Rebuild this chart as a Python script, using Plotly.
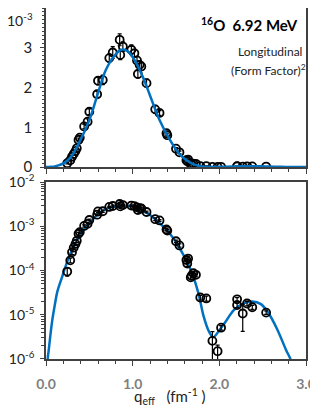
import plotly.graph_objects as go

# ---- data (form factor squared, in units of 1e-3) ----
q_data = [0.245, 0.28, 0.30, 0.32, 0.34, 0.355, 0.375, 0.39, 0.44, 0.48, 0.50, 0.59, 0.60,
          0.655, 0.73, 0.77, 0.85, 0.857, 0.887, 0.985, 1.02, 1.05, 1.06, 1.08, 1.10, 1.16,
          1.26, 1.31, 1.39, 1.40, 1.50, 1.54, 1.62, 1.64, 1.63, 1.67, 1.68, 1.70, 1.73,
          1.78, 1.85, 1.92, 1.98, 2.02, 2.205, 2.205, 2.27, 2.32, 2.38, 2.54]
f2_data = [0.095, 0.17, 0.26, 0.33, 0.40, 0.47, 0.68, 0.74, 1.02, 1.14, 1.39, 1.83, 2.17,
           2.19, 2.74, 2.88, 3.20, 2.82, 3.03, 2.95, 2.86, 2.68, 2.34, 2.57, 2.53, 2.11,
           1.45, 1.36, 0.85, 0.80, 0.46, 0.37, 0.173, 0.187, 0.144, 0.070, 0.076, 0.087, 0.080,
           0.0246, 0.0234, 0.00257, 0.0015, 0.0051, 0.0224, 0.0166, 0.0107, 0.018, 0.0148, 0.0112]
f2_err = [0.02, 0.02, 0.03, 0.03, 0.03, 0.04, 0.05, 0.05, 0.06, 0.07, 0.07, 0.08, 0.10,
          0.12, 0.10, 0.15, 0.15, 0.12, 0.12, 0.12, 0.10, 0.10, 0.10, 0.10, 0.10, 0.10,
          0.10, 0.06, 0.05, 0.05, 0.03, 0.03, 0.015, 0.015, 0.02, 0.008, 0.008, 0.008, 0.008,
          0.003, 0.003, 0.0016, 0.00055, 0.0006, 0.002, 0.002, 0.0065, 0.002, 0.0015, 0.001]

q_curve = [0.0, 0.02, 0.03, 0.07, 0.10, 0.13, 0.19, 0.25, 0.30, 0.38, 0.50, 0.60, 0.69, 0.79,
           0.87, 0.95, 1.04, 1.12, 1.20, 1.31, 1.43, 1.55, 1.68, 1.76, 1.82, 1.88, 1.93, 1.99,
           2.07, 2.17, 2.28, 2.38, 2.48, 2.57, 2.67, 2.77, 2.82, 2.90, 3.00]
f2_curve = [0.0, 0.001, 0.0015, 0.007, 0.016, 0.033, 0.076, 0.17, 0.29, 0.60, 1.18, 1.86, 2.44,
            2.80, 2.95, 2.90, 2.62, 2.25, 1.80, 1.18, 0.68, 0.30, 0.093, 0.030, 0.0091, 0.0042,
            0.0031, 0.0042, 0.0069, 0.0129, 0.0182, 0.020, 0.0174, 0.0107, 0.0046, 0.0016,
            0.0010, 0.0003, 0.00005]

x_ticks = [0.0, 1.0, 2.0, 3.0]
x_ticktext = ["0.0", "1.0", "2.0", "3.0"]
lin_ticks = [0, 1, 2, 3]
lin_ticktext = ["0", "1", "2", "3"]
lin_exponent = "10<sup>-3</sup>"
log_ticks = [1e-6, 1e-5, 1e-4, 1e-3, 1e-2]
log_ticktext = ["10<sup>-6</sup>", "10<sup>-5</sup>", "10<sup>-4</sup>", "10<sup>-3</sup>", "10<sup>-2</sup>"]

BLUE = "#0070C0"
FONT = "Lato"
AX = "#404040"

scale = 1e-3
f2_log = [v * scale for v in f2_data]
err_log = [e * scale for e in f2_err]
curve_log = [v * scale for v in f2_curve]

marker = dict(symbol="circle-open", size=8, color="black", line=dict(width=1.8, color="black"))

fig = go.Figure()
# top panel (linear)
fig.add_trace(go.Scatter(x=q_data, y=f2_data, mode="markers", marker=marker,
                         error_y=dict(type="data", array=f2_err, color="black", thickness=1.2, width=2),
                         xaxis="x", yaxis="y", showlegend=False))
fig.add_trace(go.Scatter(x=q_curve, y=f2_curve, mode="lines", line=dict(color=BLUE, width=2.5, shape="spline"),
                         xaxis="x", yaxis="y", showlegend=False))
# bottom panel (log)
fig.add_trace(go.Scatter(x=q_curve, y=curve_log, mode="lines", line=dict(color=BLUE, width=2.5, shape="spline"),
                         xaxis="x2", yaxis="y2", showlegend=False))
fig.add_trace(go.Scatter(x=q_data, y=f2_log, mode="markers", marker=marker,
                         error_y=dict(type="data", array=err_log, color="black", thickness=1.2, width=2),
                         xaxis="x2", yaxis="y2", showlegend=False))

common_x = dict(range=[0, 3], showline=True, linecolor=AX, linewidth=1.5, mirror=True,
                ticks="outside", ticklen=5, tickcolor=AX, tickwidth=1, showgrid=False, zeroline=False,
                tickvals=x_ticks, automargin=False,
                minor=dict(dtick=0.2, tick0=0, ticks="outside", ticklen=3, tickcolor=AX, showgrid=False))

# the page body adds an 8px offset, so the figure is sized/positioned to compensate
fig.update_layout(
    width=310, height=400,
    margin=dict(l=38, r=12, t=0, b=49, autoexpand=False),
    paper_bgcolor="white", plot_bgcolor="white",
    xaxis=dict(domain=[0, 1], anchor="y", showticklabels=False, **common_x),
    yaxis=dict(domain=[0.547, 1], anchor="x", range=[0, 4], tickvals=lin_ticks, ticktext=lin_ticktext,
               showline=True, linecolor=AX, linewidth=1.5, mirror=True, ticks="outside", ticklen=4,
               tickcolor=AX, showgrid=False, zeroline=False, ticklabelstandoff=5, automargin=False,
               tickfont=dict(family=FONT, size=15, color="#222222"),
               minor=dict(dtick=0.1, tick0=0, ticks="outside", ticklen=2, tickcolor=AX, showgrid=False)),
    xaxis2=dict(domain=[0, 1], anchor="y2", ticktext=x_ticktext, ticklabelstandoff=6,
                tickfont=dict(family=FONT, size=14, color="#7f7f7f", weight="bold"), **common_x),
    yaxis2=dict(domain=[0, 0.504], anchor="x2", type="log", range=[-6, -2], tickvals=log_ticks,
                ticktext=log_ticktext, showline=True, linecolor=AX, linewidth=1.5, mirror=True,
                ticks="outside", ticklen=4, tickcolor=AX, showgrid=False, zeroline=False,
                ticklabelstandoff=3, automargin=False, tickfont=dict(family=FONT, size=14, color="#222222"),
                minor=dict(dtick="D1", ticks="outside", ticklen=3, tickcolor=AX, showgrid=False)),
    annotations=[
        dict(text=lin_exponent, x=-0.042, y=0.968, xref="paper", yref="paper",
             xanchor="right", yanchor="middle",
             showarrow=False, font=dict(family=FONT, size=14, color="#222222")),
        dict(text="<sup>16</sup>O  6.92 MeV", x=0.781, y=0.952, xref="paper", yref="paper",
             xanchor="center", yanchor="middle",
             showarrow=False, font=dict(family=FONT, size=15, color="black", weight="bold")),
        dict(text="Longitudinal", x=0.862, y=0.875, xref="paper", yref="paper",
             xanchor="center", yanchor="middle",
             showarrow=False, font=dict(family=FONT, size=12, color="#222222")),
        dict(text="(Form Factor)<sup>2</sup>", x=0.855, y=0.823, xref="paper", yref="paper",
             xanchor="center", yanchor="middle",
             showarrow=False, font=dict(family=FONT, size=12, color="#222222")),
        dict(text="q<sub>eff</sub>   (fm<sup>-1</sup> )", x=0.477, y=-0.108, xref="paper", yref="paper",
             xanchor="center", yanchor="middle",
             showarrow=False, font=dict(family=FONT, size=15, color="#222222")),
    ],
)

fig.write_html("out.html")
